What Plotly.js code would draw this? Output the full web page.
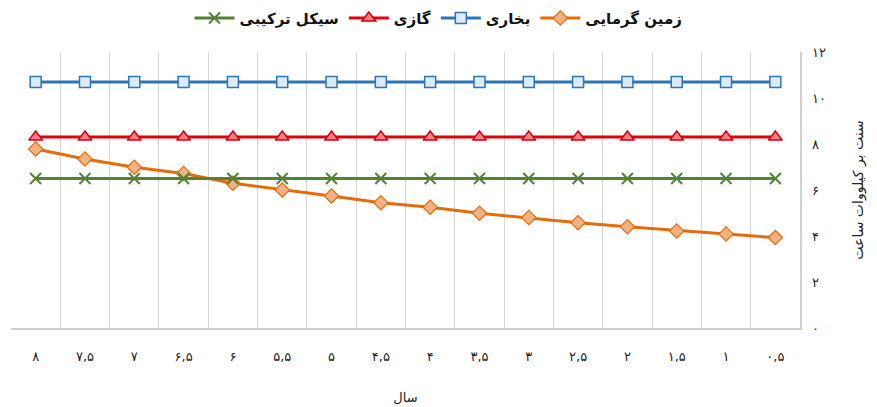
<!DOCTYPE html>
<html>
<head>
<meta charset="utf-8">
<script src="https://cdn.plot.ly/plotly-3.0.1.min.js"></script>
<style>html,body{margin:0;padding:0;background:#fff;}#chart{width:877px;height:407px;}</style>
</head>
<body>
<div id="chart"></div>
<script>
// Years (categories), shown reversed (8 at left, 0.5 at right)
const years = ["0.5","1","1.5","2","2.5","3","3.5","4","4.5","5","5.5","6","6.5","7","7.5","8"];
const yearLabels = ["۰,۵","۱","۱,۵","۲","۲,۵","۳","۳,۵","۴","۴,۵","۵","۵,۵","۶","۶,۵","۷","۷,۵","۸"];
// Series values (cents per kWh)
const geothermal = [3.93,4.09,4.22,4.40,4.58,4.80,4.99,5.25,5.45,5.74,6.00,6.29,6.72,6.99,7.35,7.78];
const steam      = [10.7,10.7,10.7,10.7,10.7,10.7,10.7,10.7,10.7,10.7,10.7,10.7,10.7,10.7,10.7,10.7];
const gas        = [8.3,8.3,8.3,8.3,8.3,8.3,8.3,8.3,8.3,8.3,8.3,8.3,8.3,8.3,8.3,8.3];
const combined   = [6.5,6.5,6.5,6.5,6.5,6.5,6.5,6.5,6.5,6.5,6.5,6.5,6.5,6.5,6.5,6.5];
const seriesNames = ["زمین گرمایی","بخاری","گازی","سیکل ترکیبی"];
const yTickVals = [0,2,4,6,8,10,12];
const yTickText = ["۰","۲","۴","۶","۸","۱۰","۱۲"];

const FONT = "DejaVu Sans, Noto Sans, sans-serif";

const traces = [
  {x: years, y: geothermal, name: seriesNames[0], mode: "lines+markers",
   line: {color: "#E46C0A", width: 3},
   marker: {symbol: "diamond", size: 11, color: "#F4B183", line: {color: "#E46C0A", width: 1.2}}},
  {x: years, y: steam, name: seriesNames[1], mode: "lines+markers",
   line: {color: "#2E75B6", width: 3},
   marker: {symbol: "square", size: 11, color: "#DDEBF7", line: {color: "#2E75B6", width: 1.5}}},
  {x: years, y: gas, name: seriesNames[2], mode: "lines+markers",
   line: {color: "#E00010", width: 3},
   marker: {symbol: "triangle-up", size: 12, color: "#FF7C80", line: {color: "#D00010", width: 1.5}}},
  {x: years, y: combined, name: seriesNames[3], mode: "lines+markers",
   line: {color: "#548235", width: 3},
   marker: {symbol: "x-thin", size: 11, color: "#70AD47", line: {color: "#548235", width: 2}}}
];

const layout = {
  width: 877, height: 407,
  margin: {l: 11, r: 77, t: 52, b: 79},
  paper_bgcolor: "#fff", plot_bgcolor: "#fff",
  font: {family: FONT, size: 13, color: "#222"},
  showlegend: true,
  legend: {orientation: "h", x: 0.5, xanchor: "center", xref: "container",
           y: 0.955, yanchor: "middle", yref: "container", traceorder: "reversed",
           itemwidth: 40,
           font: {family: FONT, size: 15, color: "#111", weight: "bold"}},
  xaxis: {type: "category", range: [15.5, -0.5],
          tickvals: years, ticktext: yearLabels, tickangle: 0,
          tickson: "boundaries", showgrid: true, gridcolor: "#d6d6d6", gridwidth: 1,
          showline: true, linecolor: "#d0d0d0", linewidth: 1.5,
          ticks: "", ticklabelstandoff: 16,
          tickfont: {family: FONT, size: 13, color: "#222"},
          title: {text: "سال", font: {family: FONT, size: 13, color: "#222"}, standoff: 30},
          zeroline: false, fixedrange: true},
  yaxis: {side: "right", range: [0, 12], tickvals: yTickVals, ticktext: yTickText,
          showgrid: false, zeroline: false,
          showline: true, linecolor: "#d0d0d0", linewidth: 1.5,
          ticks: "", ticklabelstandoff: 8,
          tickfont: {family: FONT, size: 13, color: "#222"},
          title: {text: "سنت بر کیلووات ساعت", font: {family: FONT, size: 14, color: "#222"}, standoff: 28},
          fixedrange: true}
};

Plotly.newPlot("chart", traces, layout, {displayModeBar: false, staticPlot: true});
</script>
</body>
</html>
